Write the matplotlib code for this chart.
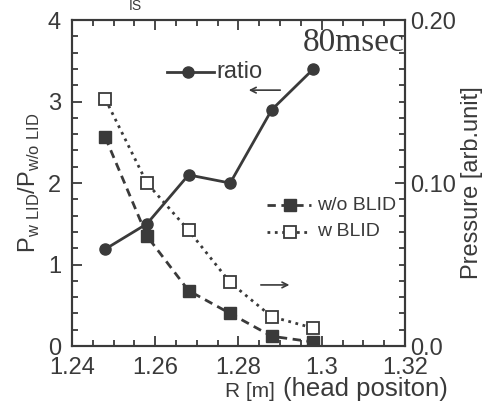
import matplotlib
matplotlib.use("Agg")
import matplotlib.pyplot as plt
from matplotlib.ticker import MultipleLocator

plt.rcParams['font.family'] = ['Liberation Sans', 'DejaVu Sans']

# head position R [m]
r_pos = [1.248, 1.258, 1.268, 1.278, 1.288, 1.298]
# ratio P_wLID / P_w/oLID (left axis)
ratio = [1.19, 1.50, 2.10, 2.00, 2.90, 3.40]
# pressure [arb.unit] (right axis)
p_wo_blid = [0.128, 0.0675, 0.034, 0.020, 0.006, 0.0025]
p_w_blid = [0.1515, 0.100, 0.071, 0.039, 0.018, 0.011]

col = '#3a3a3a'
fig = plt.figure(figsize=(4.85, 4.01), dpi=100)
ax = fig.add_axes([0.1485, 0.137, 0.6865, 0.813])
ax2 = ax.twinx()

ax.plot(r_pos, ratio, '-o', color=col, lw=2, ms=8, zorder=3)
ax2.plot(r_pos, p_wo_blid, '--s', color=col, lw=2, ms=8, dashes=(3, 2))
ax2.plot(r_pos, p_w_blid, ':s', color=col, lw=2, ms=8, mfc='white', mec=col, mew=1.3)

ax.set_xlim(1.24, 1.32)
ax.set_ylim(0, 4)
ax2.set_ylim(0, 0.20)
ax.set_zorder(ax2.get_zorder() + 1)
ax.patch.set_visible(False)

ax.xaxis.set_major_locator(MultipleLocator(0.02))
ax.xaxis.set_minor_locator(MultipleLocator(0.005))
ax.yaxis.set_major_locator(MultipleLocator(1))
ax.yaxis.set_minor_locator(MultipleLocator(0.2))
ax2.yaxis.set_major_locator(MultipleLocator(0.10))
ax2.yaxis.set_minor_locator(MultipleLocator(0.01))
ax.set_xticks([1.24, 1.26, 1.28, 1.3, 1.32])
ax.set_xticklabels(['1.24', '1.26', '1.28', '1.3', '1.32'])
ax2.set_yticks([0.0, 0.10, 0.20])
ax2.set_yticklabels(['0.0', '0.10', '0.20'])

for a in (ax, ax2):
    for s in a.spines.values():
        s.set_linewidth(1.5)
        s.set_color(col)
ax.tick_params(which='both', direction='in', top=True, right=False, colors=col,
               labelsize=17, width=1.3)
ax.tick_params(which='major', length=7)
ax.tick_params(which='minor', length=4)
ax2.tick_params(which='both', direction='in', colors=col, labelsize=17, width=1.3)
ax2.tick_params(which='major', length=7)
ax2.tick_params(which='minor', length=4)
ax.tick_params(axis='x', pad=8)
ax.tick_params(axis='y', pad=8)

ax.set_ylabel(r'P$_{\mathregular{w\ LID}}$/P$_{\mathregular{w/o\ LID}}$', fontsize=17, color=col, labelpad=4)
ax2.set_ylabel('Pressure [arb.unit]', fontsize=17, color=col, labelpad=4)
fig.text(0.567, 0.0, 'R [m]', fontsize=15, color=col, ha='right', va='bottom')
fig.text(0.583, 0.0, '(head positon)', fontsize=18.5, color=col, ha='left', va='bottom')
fig.text(0.28, 0.985, 'IS', fontsize=10, color=col, ha='center', va='center')

# in-plot legends and arrows
ax.plot([1.2628, 1.2742], [3.36, 3.36], '-', color=col, lw=2)
ax.plot([1.2679], [3.36], 'o', color=col, ms=8)
ax.text(1.2748, 3.36, 'ratio', fontsize=17, color=col, va='center')
ax.annotate('', xy=(1.2818, 3.14), xytext=(1.2907, 3.14),
            arrowprops=dict(arrowstyle='->', color=col, lw=1.2))
ax.annotate('', xy=(1.2929, 0.75), xytext=(1.2847, 0.75),
            arrowprops=dict(arrowstyle='->', color=col, lw=1.2))

ax.plot([1.2869, 1.2975], [1.73, 1.73], '--', color=col, lw=2, dashes=(3, 2))
ax.plot([1.2924], [1.73], 's', color=col, ms=8)
ax.text(1.2989, 1.73, 'w/o BLID', fontsize=14, color=col, va='center')
ax.plot([1.2869, 1.2975], [1.40, 1.40], ':', color=col, lw=2)
ax.plot([1.2924], [1.40], 's', color=col, ms=8, mfc='white', mec=col, mew=1.3)
ax.text(1.2989, 1.40, 'w BLID', fontsize=14, color=col, va='center')

ax.text(1.3198, 3.72, '80msec', fontsize=24, color=col, ha='right', va='center',
        family=['Liberation Serif', 'DejaVu Serif'])

fig.savefig('out.png', dpi=100)
